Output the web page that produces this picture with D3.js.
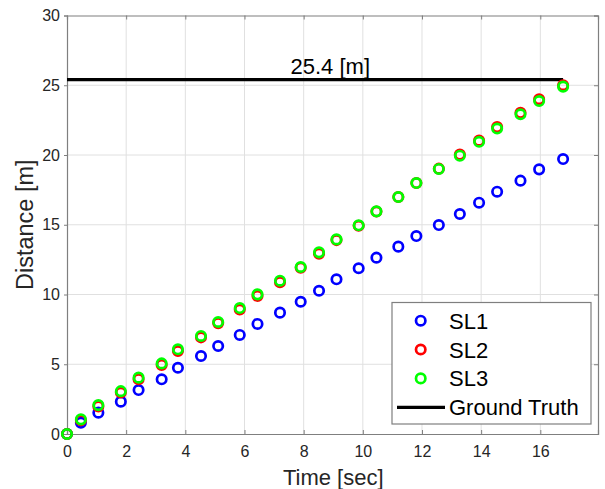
<!DOCTYPE html>
<html>
<head>
<meta charset="utf-8">
<script src="https://cdn.jsdelivr.net/npm/d3@7"></script>
<style>
  html, body { margin: 0; padding: 0; background: #fff; }
  svg { display: block; font-family: "Liberation Sans", Arial, Helvetica, sans-serif; }
</style>
</head>
<body>
<svg id="chart" width="605" height="489"></svg>
<script>
// ---- data ----
const time = [0, 0.47, 1.06, 1.82, 2.42, 3.2, 3.75, 4.53, 5.11, 5.84, 6.44, 7.2, 7.9, 8.52, 9.11, 9.86, 10.46, 11.2, 11.81, 12.57, 13.28, 13.93, 14.54, 15.33, 15.96, 16.77];
const sl1 = [0, 0.81, 1.53, 2.32, 3.15, 3.92, 4.75, 5.59, 6.31, 7.10, 7.89, 8.70, 9.48, 10.27, 11.09, 11.88, 12.64, 13.43, 14.19, 14.98, 15.77, 16.58, 17.37, 18.16, 18.97, 19.71];
const sl2 = [0, 0.98, 1.98, 2.97, 3.93, 4.95, 5.95, 6.93, 7.95, 8.92, 9.90, 10.88, 11.92, 12.93, 13.90, 14.93, 15.95, 16.99, 17.99, 19.02, 20.03, 21.03, 22.0, 23.02, 24.0, 25.0];
const sl3 = [0, 1.05, 2.07, 3.07, 4.04, 5.06, 6.07, 7.03, 8.03, 9.03, 10.01, 10.99, 11.97, 13.02, 13.95, 14.96, 15.96, 16.99, 17.99, 19.0, 19.95, 20.95, 21.90, 22.92, 23.87, 24.90];
const seriesNames = ["SL1", "SL2", "SL3"];
const seriesColors = ["#0000ff", "#ff0000", "#00ff00"];
const groundTruth = 25.4;
const groundTruthEnd = 16.77;
const groundTruthLabel = "25.4 [m]";
const xTicks = [0, 2, 4, 6, 8, 10, 12, 14, 16];
const yTicks = [0, 5, 10, 15, 20, 25, 30];
const xDomain = [0, 17.95];
const yDomain = [0, 30];

// ---- layout ----
const pLeft = 67, pRight = 598, pTop = 15.5, pBottom = 434;
const svg = d3.select("#chart");
const x = d3.scaleLinear().domain(xDomain).range([pLeft, pRight]);
const y = d3.scaleLinear().domain(yDomain).range([pBottom, pTop]);

const axisColor = "#7f7f7f";
const textColor = "#262626";

// grid
svg.append("g").selectAll("line").data(xTicks.filter(d => d > 0)).join("line")
  .attr("x1", d => x(d)).attr("x2", d => x(d)).attr("y1", pTop).attr("y2", pBottom)
  .attr("stroke", "#e0e0e0").attr("stroke-width", 1);
svg.append("g").selectAll("line").data(yTicks.filter(d => d > 0 && d < 30)).join("line")
  .attr("x1", pLeft).attr("x2", pRight).attr("y1", d => y(d)).attr("y2", d => y(d))
  .attr("stroke", "#e0e0e0").attr("stroke-width", 1);

// axes with d3 axis generators
const xAxis = svg.append("g").attr("transform", `translate(0,${pBottom})`)
  .call(d3.axisBottom(x).tickValues(xTicks).tickSize(-4).tickPadding(12).tickFormat(d3.format("d")));
const xAxisTop = svg.append("g").attr("transform", `translate(0,${pTop})`)
  .call(d3.axisTop(x).tickValues(xTicks).tickSize(-4).tickFormat(""));
const yAxis = svg.append("g").attr("transform", `translate(${pLeft},0)`)
  .call(d3.axisLeft(y).tickValues(yTicks).tickSize(3).tickPadding(4).tickFormat(d3.format("d")));
const yAxisRight = svg.append("g").attr("transform", `translate(${pRight},0)`)
  .call(d3.axisRight(y).tickValues(yTicks).tickSize(-4).tickFormat(""));

[xAxis, xAxisTop, yAxis, yAxisRight].forEach(g => {
  g.selectAll(".domain").attr("stroke", axisColor).attr("stroke-width", 1.2);
  g.selectAll(".tick line").attr("stroke", axisColor).attr("stroke-width", 1);
  g.selectAll(".tick text").attr("fill", textColor).attr("font-size", 16)
    .attr("font-family", "Liberation Sans, Arial, sans-serif");
});
// x axis label
svg.append("text").attr("x", x(9.0)).attr("y", 485)
  .attr("text-anchor", "middle").attr("font-size", 22).attr("fill", textColor)
  .text("Time [sec]");
// y axis label
svg.append("text").attr("transform", `translate(33,${(pTop + pBottom) / 2}) rotate(-90)`)
  .attr("text-anchor", "middle").attr("font-size", 23.5).attr("fill", textColor)
  .text("Distance [m]");

// ground truth line
svg.append("line")
  .attr("x1", x(0)).attr("x2", x(groundTruthEnd))
  .attr("y1", y(groundTruth)).attr("y2", y(groundTruth))
  .attr("stroke", "#000").attr("stroke-width", 3.2);
svg.append("text").attr("x", x(8.9)).attr("y", y(groundTruth) - 6)
  .attr("text-anchor", "middle").attr("font-size", 22).attr("fill", "#000")
  .text(groundTruthLabel);

// series markers
const allSeries = [sl1, sl2, sl3];
allSeries.forEach((vals, i) => {
  svg.append("g").selectAll("circle").data(vals.map((v, j) => [time[j], v])).join("circle")
    .attr("cx", d => x(d[0])).attr("cy", d => y(d[1])).attr("r", 4.7)
    .attr("fill", "none").attr("stroke", seriesColors[i]).attr("stroke-width", 2.7);
});

// legend
const lg = svg.append("g");
lg.append("rect").attr("x", 392).attr("y", 302.5).attr("width", 199).attr("height", 121.5)
  .attr("fill", "#fff").attr("stroke", axisColor).attr("stroke-width", 1.2);
const rowY = [320.7, 349.5, 378.4, 407.3];
seriesNames.forEach((name, i) => {
  lg.append("circle").attr("cx", 420.7).attr("cy", rowY[i]).attr("r", 4.7)
    .attr("fill", "none").attr("stroke", seriesColors[i]).attr("stroke-width", 2.7);
  lg.append("text").attr("x", 449).attr("y", rowY[i] + 8).attr("font-size", 22)
    .attr("fill", "#000").text(name);
});
lg.append("line").attr("x1", 397).attr("x2", 445).attr("y1", rowY[3]).attr("y2", rowY[3])
  .attr("stroke", "#000").attr("stroke-width", 3.2);
lg.append("text").attr("x", 449).attr("y", rowY[3] + 8).attr("font-size", 22)
  .attr("fill", "#000").text("Ground Truth");
</script>
</body>
</html>
